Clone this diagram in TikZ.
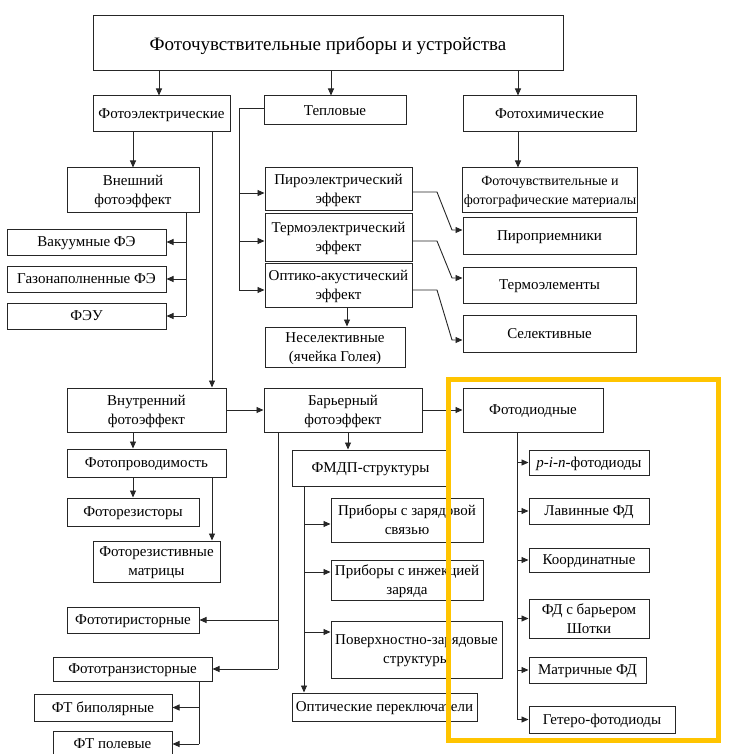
\documentclass[tikz,border=0pt]{standalone}
\usepackage{fontspec}
\setmainfont{Liberation Serif}
\usetikzlibrary{arrows.meta}
\definecolor{ygold}{RGB}{255,196,0}
\tikzset{
  box/.style={draw=black!85,line width=1pt,fill=white,inner sep=1pt,text depth=0pt,align=center,font=\fontsize{15}{19}\selectfont},
  arr/.style={draw=black!85,line width=0.9pt,-{Triangle[length=7pt,width=6pt]}},
  ln/.style={draw=black!85,line width=0.9pt},
}
\newcommand\bx[6]{\node[box,minimum width={#4pt-#2pt},minimum height={#5pt-#3pt}] (#1) at ({(#2+#4)/2},{(#3+#5)/2}) {#6};}
\begin{document}
\begin{tikzpicture}[x=1pt,y=-1pt]
\useasboundingbox (0,0) rectangle (751,754);
% boxes
\bx{title}{93}{16}{563}{71}{\fontsize{19}{22}\selectfont Фоточувствительные приборы и устройства}
\bx{pe}{93}{96}{230}{132}{Фотоэлектрические}
\bx{tp}{264}{96}{406}{125}{Тепловые}
\bx{fh}{463}{96}{636}{132}{Фотохимические}
\bx{vn}{67}{168}{199}{212}{Внешний\\фотоэффект}
\bx{vak}{7}{229}{166}{255}{Вакуумные ФЭ}
\bx{gaz}{7}{266}{166}{292}{Газонаполненные ФЭ}
\bx{feu}{7}{303}{166}{329}{ФЭУ}
\bx{pyro}{265}{168}{412}{210}{Пироэлектрический\\эффект}
\bx{thermo}{265}{213}{412}{261}{Термоэлектрический\\эффект}
\bx{optico}{265}{263}{412}{307}{Оптико-акустический\\эффект}
\bx{nonsel}{265}{327}{405}{367}{Неселективные\\(ячейка Голея)}
\bx{fmat}{463}{168}{637}{212}{\fontsize{14}{19}\selectfont Фоточувствительные и\\\fontsize{14}{19}\selectfont фотографические материалы}
\bx{pp}{463}{217}{636}{254}{Пироприемники}
\bx{te}{463}{267}{636}{303}{Термоэлементы}
\bx{sel}{463}{315}{636}{352}{Селективные}
\bx{vnutr}{67}{388}{226}{432}{Внутренний\\фотоэффект}
\bx{bar}{264}{388}{422}{432}{Барьерный\\фотоэффект}
\bx{fd}{463}{388}{603}{432}{Фотодиодные}
\bx{fprov}{67}{449}{226}{477}{Фотопроводимость}
\bx{frez}{67}{498}{199}{526}{Фоторезисторы}
\bx{frmat}{93}{541}{220}{582}{Фоторезистивные\\матрицы}
\bx{fthyr}{67}{607}{199}{633}{Фототиристорные}
\bx{ftr}{53}{657}{212}{681}{Фототранзисторные}
\bx{ftbip}{34}{694}{172}{721}{ФТ биполярные}
\bx{ftpol}{53}{731}{172}{757}{ФТ полевые}
\bx{fmdp}{292}{450}{449}{486}{ФМДП-структуры}
\bx{pzs}{331}{498}{483}{542}{Приборы с зарядовой\\связью}
\bx{pinj}{331}{560}{483}{600}{Приборы с инжекцией\\заряда}
\bx{pov}{331}{621}{502}{678}{Поверхностно-зарядовые\\структуры}
\bx{opt}{292}{693}{477}{721}{Оптические переключатели}
\bx{pin}{529}{450}{649}{475}{\textit{p-i-n}-фотодиоды}
\bx{lav}{529}{498}{649}{524}{Лавинные ФД}
\bx{koord}{529}{548}{649}{572}{Координатные}
\bx{shot}{529}{599}{649}{638}{ФД с барьером\\Шотки}
\bx{matr}{529}{657}{646}{683}{Матричные ФД}
\bx{get}{529}{706}{675}{733}{Гетеро-фотодиоды}
% helper coordinates
\coordinate (x159) at (159,0);
\coordinate (x331) at (331,0);
\coordinate (x518) at (518,0);
\coordinate (x133) at (133,0);
\coordinate (x212) at (212,0);
\coordinate (x186) at (186,0);
\coordinate (x347) at (347,0);
\coordinate (x348) at (348,0);
\coordinate (x278) at (278,0);
\coordinate (x199) at (199,0);
\coordinate (x304) at (304,0);
\coordinate (x517) at (517,0);
\coordinate (t0) at (239,108);
\coordinate (t1) at (239,193);
\coordinate (t2) at (239,241);
\coordinate (t3) at (239,290);
\coordinate (p1a) at (437,192);
\coordinate (p1b) at (452,230);
\coordinate (p2a) at (437,241);
\coordinate (p2b) at (452,278);
\coordinate (p3a) at (437,290);
\coordinate (p3b) at (452,340);
\coordinate (m1) at (304,524);
\coordinate (m2) at (304,572);
\coordinate (m3) at (304,632);
% top level
\draw[arr] (title.south -| x159) -- (pe.north -| x159);
\draw[arr] (title.south -| x331) -- (tp.north -| x331);
\draw[arr] (title.south -| x518) -- (fh.north -| x518);
\draw[arr] (fh.south -| x518) -- (fmat.north -| x518);
% photoelectric
\draw[arr] (pe.south -| x133) -- (vn.north -| x133);
\draw[arr] (pe.south -| x212) -- (vnutr.north -| x212);
\draw[ln] (vn.south -| x186) -- (feu.east -| x186);
\draw[arr] (vak.east -| x186) -- (vak.east);
\draw[arr] (gaz.east -| x186) -- (gaz.east);
\draw[arr] (feu.east -| x186) -- (feu.east);
% thermal
\draw[ln] (tp.west |- t0) -- (t0) -- (t3);
\draw[arr] (t1) -- (pyro.west |- t1);
\draw[arr] (t2) -- (thermo.west |- t2);
\draw[arr] (t3) -- (optico.west |- t3);
\draw[arr] (optico.south -| x347) -- (nonsel.north -| x347);
\draw[arr] (pyro.east |- p1a) -- (p1a) -- (p1b) -- (pp.west |- p1b);
\draw[arr] (thermo.east |- p2a) -- (p2a) -- (p2b) -- (te.west |- p2b);
\draw[arr] (optico.east |- p3a) -- (p3a) -- (p3b) -- (sel.west |- p3b);
% internal
\draw[arr] (vnutr.east) -- (bar.west);
\draw[arr] (bar.east) -- (fd.west);
\draw[arr] (vnutr.south -| x133) -- (fprov.north -| x133);
\draw[arr] (fprov.south -| x133) -- (frez.north -| x133);
\draw[arr] (fprov.south -| x212) -- (frmat.north -| x212);
\draw[arr] (bar.south -| x348) -- (fmdp.north -| x348);
\draw[ln] (bar.south -| x278) -- (ftr.east -| x278);
\draw[arr] (fthyr.east -| x278) -- (fthyr.east);
\draw[arr] (ftr.east -| x278) -- (ftr.east);
\draw[ln] (ftr.south -| x199) -- (ftpol.east -| x199);
\draw[arr] (ftbip.east -| x199) -- (ftbip.east);
\draw[arr] (ftpol.east -| x199) -- (ftpol.east);
% FMDP
\draw[arr] (fmdp.south -| x304) -- (opt.north -| x304);
\draw[arr] (m1) -- (pzs.west |- m1);
\draw[arr] (m2) -- (pinj.west |- m2);
\draw[arr] (m3) -- (pov.west |- m3);
% photodiodes
\draw[ln] (fd.south -| x517) -- (get.west -| x517);
\foreach \b in {pin,lav,koord,shot,matr,get}{
  \draw[arr] (\b.west -| x517) -- (\b.west);
}
% highlight
\draw[ygold,line width=5pt] (448.5,379.5) rectangle (718.5,740.5);
\end{tikzpicture}
\end{document}
